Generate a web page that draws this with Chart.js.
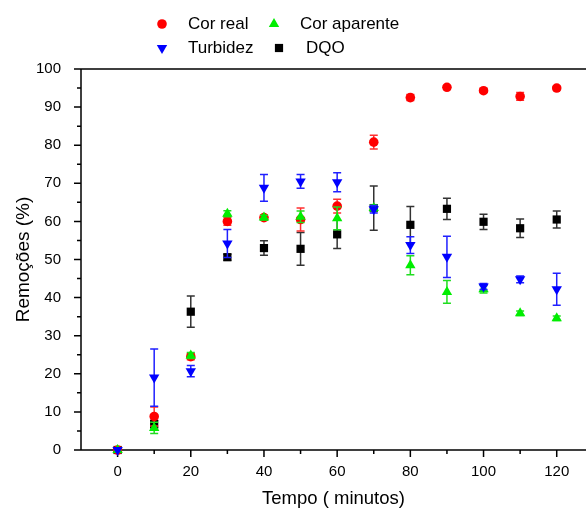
<!DOCTYPE html>
<html><head><meta charset="utf-8">
<script src="https://cdn.jsdelivr.net/npm/chart.js@4/dist/chart.umd.min.js"></script>
<style>html,body{margin:0;padding:0;background:#fff}#wrap{width:586px;height:508px;position:relative}</style>
</head><body><div id="wrap"><canvas id="c" width="586" height="508"></canvas></div>
<script>
const times = [0,10,20,30,40,50,60,70,80,90,100,110,120];
const corReal = [0,8.8,24.5,60,61,60.5,64,80.8,92.5,95.2,94.3,92.8,95];
const corRealErr = [0,2.5,0.8,1,0.6,3,1.8,1.8,0.8,0.5,0.5,1,0.5];
const corAparente = [0,5.8,24.8,62,61,61.2,60.8,63.5,48.5,41.5,42.2,35.9,34.6];
const corAparenteErr = [0,1.5,0.8,0.8,0.6,1.5,3,0.8,2.5,3,1,0.6,0.6];
const turbidez = [0,19,20.7,54.2,68.8,70.5,70.3,63.2,53.8,50.7,42.9,44.8,42.2];
const turbidezErr = [0,7.5,1.5,3.7,3.5,1.8,2.5,1,2.2,5.4,0.8,0.9,4.2];
const dqo = [0,6.8,36.3,50.6,53,52.8,56.6,63.5,59.1,63.3,59.9,58.2,60.5];
const dqoErr = [0,1,4.1,0.8,1.9,4.3,3.7,5.8,4.8,2.8,2,2.4,2.2];
const xMajor = [0,20,40,60,80,100,120];
const xMinor = [10,30,50,70,90,110];
const yMajor = [0,10,20,30,40,50,60,70,80,90,100];
const yMinor = [5,15,25,35,45,55,65,75,85,95];
const seriesNames = ['Cor real','Cor aparente','Turbidez','DQO'];

const FONT = "'Liberation Sans', Arial, sans-serif";
const pts = arr => times.map((t,i)=>({x:t,y:arr[i]}));
const errs = [corRealErr, corAparenteErr, turbidezErr, dqoErr];
const cols = ['#ff0000','#00ee00','#0000ff','#000000'];

const errPlugin = {
  id:'errbars',
  beforeDatasetDraw(chart, args){
    const i = args.index, ds = chart.data.datasets[i];
    const e = errs[i]; if(!e) return;
    const xs = chart.scales.x, ys = chart.scales.y, ctx = chart.ctx;
    ctx.save();
    ctx.strokeStyle = ds.errColor; ctx.lineWidth = 1.5;
    ds.data.forEach((p,k)=>{
      if(!e[k]) return;
      const px = xs.getPixelForValue(p.x);
      const y1 = ys.getPixelForValue(p.y + e[k]);
      const y2 = ys.getPixelForValue(p.y - e[k]);
      ctx.beginPath();
      ctx.moveTo(px,y1); ctx.lineTo(px,y2);
      ctx.moveTo(px-4,y1); ctx.lineTo(px+4,y1);
      ctx.moveTo(px-4,y2); ctx.lineTo(px+4,y2);
      ctx.stroke();
    });
    ctx.restore();
  }
};

const axesPlugin = {
  id:'axesdraw',
  beforeDatasetsDraw(chart){
    const {ctx, chartArea:a} = chart; const xs = chart.scales.x, ys = chart.scales.y;
    ctx.save(); ctx.strokeStyle='#000'; ctx.lineWidth=1.5;
    ctx.beginPath();
    ctx.moveTo(a.left, a.top); ctx.lineTo(a.right, a.top);
    ctx.moveTo(a.left, a.top); ctx.lineTo(a.left, a.bottom); ctx.lineTo(a.right, a.bottom);
    xMajor.forEach(v=>{const p=xs.getPixelForValue(v); ctx.moveTo(p,a.bottom); ctx.lineTo(p,a.bottom+7);});
    xMinor.forEach(v=>{const p=xs.getPixelForValue(v); ctx.moveTo(p,a.bottom); ctx.lineTo(p,a.bottom+4);});
    yMajor.forEach(v=>{const p=ys.getPixelForValue(v); ctx.moveTo(a.left,p); ctx.lineTo(a.left-7,p);});
    yMinor.forEach(v=>{const p=ys.getPixelForValue(v); ctx.moveTo(a.left,p); ctx.lineTo(a.left-4,p);});
    ctx.stroke(); ctx.restore();
  }
};

const legendPlugin = {
  id:'legend2',
  afterDraw(chart){
    const ctx = chart.ctx;
    const items = [
      {n:0, mx:162, my:24, tx:188},
      {n:1, mx:274, my:24, tx:300},
      {n:2, mx:162, my:48, tx:188},
      {n:3, mx:279, my:48, tx:306}
    ];
    ctx.save();
    items.forEach(it=>{
      const ds = chart.data.datasets[it.n];
      ctx.fillStyle = ds.backgroundColor; ctx.strokeStyle = ds.backgroundColor;
      Chart.helpers.drawPoint(ctx, {pointStyle: ds.pointStyle, radius: ds.pointRadius, rotation: ds.rotation||0, borderWidth:0}, it.mx, it.my);
      ctx.fillStyle = '#000';
      ctx.font = "17px " + FONT;
      ctx.textBaseline = 'middle'; ctx.textAlign='left';
      ctx.fillText(seriesNames[it.n], it.tx, it.my);
    });
    ctx.restore();
  }
};

new Chart(document.getElementById('c'), {
  type:'scatter',
  data:{datasets:[
    {label:seriesNames[0], data:pts(corReal), pointStyle:'circle', pointRadius:4.8, backgroundColor:cols[0], borderColor:cols[0], borderWidth:0, errColor:'#ff3030', order:2},
    {label:seriesNames[1], data:pts(corAparente), pointStyle:'triangle', pointRadius:6, backgroundColor:cols[1], borderColor:cols[1], borderWidth:0, errColor:'#20dd20', order:1},
    {label:seriesNames[2], data:pts(turbidez), pointStyle:'triangle', rotation:180, pointRadius:6, backgroundColor:cols[2], borderColor:cols[2], borderWidth:0, errColor:'#2020ff', order:0},
    {label:seriesNames[3], data:pts(dqo), pointStyle:'rect', pointRadius:5.8, backgroundColor:cols[3], borderColor:cols[3], borderWidth:0, errColor:'#333333', order:3}
  ]},
  options:{
    responsive:false, animation:false, devicePixelRatio:1,
    layout:{autoPadding:false, padding:{top:69,left:0,right:0,bottom:0}},
    clip:false,
    plugins:{legend:{display:false}, tooltip:{enabled:false}},
    scales:{
      x:{type:'linear', min:-10, max:128,
        afterBuildTicks:s=>{s.ticks = xMajor.map(v=>({value:v}));},
        afterFit:s=>{s.height=58; s.paddingRight=0; s.paddingLeft=0;},
        grid:{display:false}, border:{display:false},
        ticks:{color:'#000', font:{family:FONT,size:15}, padding:5, maxRotation:0},
        title:{display:true, text:'Tempo ( minutos)', color:'#000', font:{family:FONT,size:18.5,lineHeight:1}, padding:{top:0,bottom:0}}
      },
      y:{type:'linear', min:0, max:100,
        afterBuildTicks:s=>{s.ticks = yMajor.map(v=>({value:v}));},
        afterFit:s=>{s.width=81; s.paddingTop=0; s.paddingBottom=0;},
        grid:{display:false}, border:{display:false},
        ticks:{color:'#000', font:{family:FONT,size:15}, padding:12},
        title:{display:true, text:'Remoções (%)', color:'#000', font:{family:FONT,size:19,lineHeight:1}, padding:{top:14,bottom:0}}
      }
    }
  },
  plugins:[errPlugin, axesPlugin, legendPlugin]
});
</script></body></html>
